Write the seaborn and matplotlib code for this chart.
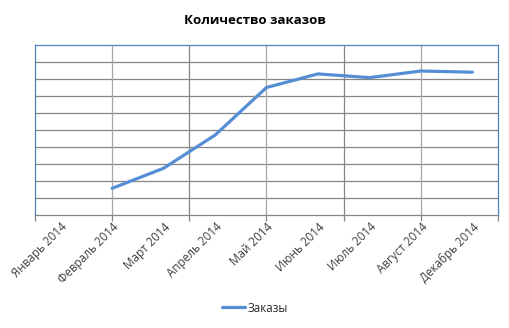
import numpy as np
import pandas as pd
import matplotlib
matplotlib.use("Agg")
import matplotlib.pyplot as plt
import seaborn as sns
from matplotlib.lines import Line2D

months = ["Январь 2014", "Февраль 2014", "Март 2014", "Апрель 2014", "Май 2014",
          "Июнь 2014", "Июль 2014", "Август 2014", "Декабрь 2014"]
orders = [np.nan, 1.57, 2.75, 4.7, 7.5, 8.3, 8.08, 8.47, 8.4]
series_name = "Заказы"
title = "Количество заказов"

sns.set_theme(style="white")
plt.rcParams['font.family'] = ['Open Sans', 'DejaVu Sans']

df = pd.DataFrame({"pos": np.arange(len(months)), "val": orders, "s": series_name})

fig = plt.figure(figsize=(5.10, 3.28), dpi=100)
ax = fig.add_axes([35/510, 1-215/328, 463/510, 170/328])

line_color = "#558ed5"
sns.lineplot(data=df, x="pos", y="val", hue="s", palette=[line_color],
             linewidth=2.3, ax=ax, legend=False)

n = len(months)
ax.set_xlim(-0.5, n - 0.5)
ax.set_ylim(0, 10)

# horizontal gridlines
ax.set_yticks(np.arange(0, 11, 1))
ax.set_yticklabels([])
ax.tick_params(axis="y", length=0)
for yv in range(1, 10):
    ax.axhline(yv, color="#868686", linewidth=0.9, zorder=0)

# major x ticks every 1.5 categories with vertical gridlines
ax.xaxis.remove_overlapping_locs = False
major = np.arange(-0.5, n - 0.5 + 0.01, 1.5)
ax.set_xticks(major)
ax.set_xticklabels([])
ax.tick_params(axis="x", which="major", length=4, width=0.9, color="#868686", direction="out", bottom=True)
for i, xv in enumerate(major[1:-1]):
    ax.axvline(xv, color="#a6a6a6" if i % 2 == 0 else "#868686", linewidth=0.9, zorder=0)

ax.set_xticks(np.arange(n), minor=True)
ax.set_xticklabels(months, minor=True, rotation=45, ha="right", rotation_mode="anchor",
                   fontsize=8.4, color="#404040")
ax.tick_params(axis="x", which="minor", length=0, pad=4)

ax.set_xlabel("")
ax.set_ylabel("")

for side in ["left", "top", "right"]:
    ax.spines[side].set_color("#4f81bd")
    ax.spines[side].set_linewidth(0.9)
ax.spines["bottom"].set_color("#868686")
ax.spines["bottom"].set_linewidth(0.9)

fig.text(0.5, 1 - 20/328, title, ha="center", va="center", fontsize=9.5,
         fontweight="bold", color="#000000")

handle = Line2D([], [], color=line_color, linewidth=2.3)
fig.legend([handle], [series_name], loc="center", bbox_to_anchor=(0.5, 1 - 308/328),
           frameon=False, fontsize=8.4, handlelength=2.0, handletextpad=0.2)

fig.savefig("out.png", dpi=100, facecolor="white")
